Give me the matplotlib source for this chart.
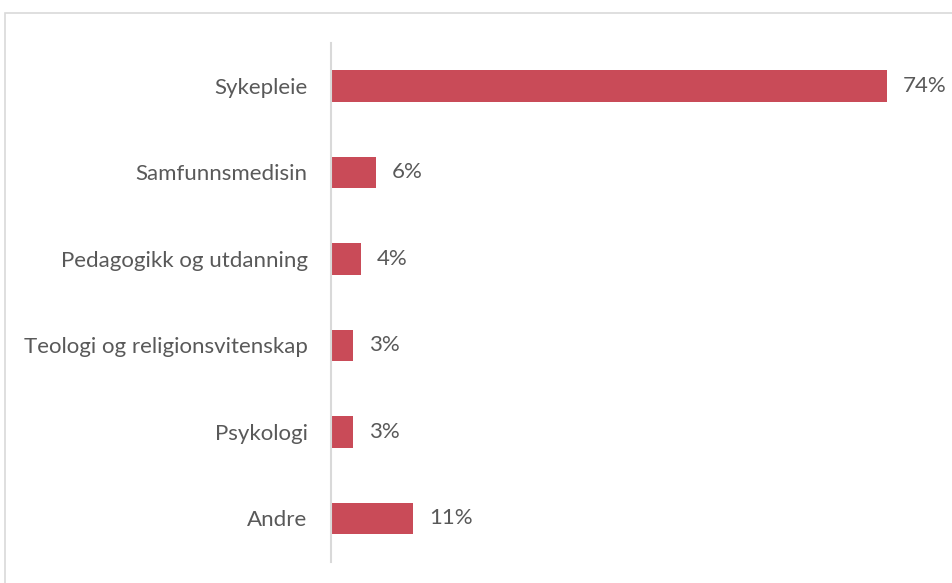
import matplotlib
matplotlib.use("Agg")
from matplotlib import pyplot as plt
from matplotlib.patches import Rectangle

categories = ["Sykepleie", "Samfunnsmedisin", "Pedagogikk og utdanning",
              "Teologi og religionsvitenskap", "Psykologi", "Andre"]
shares = [74, 6, 4, 3, 3, 11]
share_labels = ["74%", "6%", "4%", "3%", "3%", "11%"]

bar_color = "#C94B58"
text_color = "#595959"
grid_gray = "#D9D9D9"

plt.rcParams["font.family"] = ["Lato", "DejaVu Sans"]

W, H = 952, 583
fig = plt.figure(figsize=(W / 100, H / 100), dpi=100)

# chart area frame (only top and left edges fall inside the image)
fig.patches.append(Rectangle((4.5 / W, -0.1), 1.2, 1.1 - 13.5 / H,
                             transform=fig.transFigure, fill=False,
                             edgecolor=grid_gray, linewidth=1.2))

left, right = 330.5, 940
top, bottom = 42.7, 561.7
ax = fig.add_axes([left / W, 1 - bottom / H, (right - left) / W, (bottom - top) / H])

px_per_unit = (886.7 - 330.5) / 74
ax.set_xlim(0, (right - left) / px_per_unit)
ax.set_ylim(len(categories) - 0.5, -0.5)

ypos = list(range(len(categories)))
ax.barh(ypos, shares, height=0.36, color=bar_color)

for y, v, lab in zip(ypos, shares, share_labels):
    ax.annotate(lab, (v, y), xytext=(11.5, 0), textcoords="offset points",
                ha="left", va="center", fontsize=16, color=text_color)

ax.set_yticks(ypos)
ax.set_yticklabels(categories, fontsize=16, color=text_color)
ax.tick_params(axis="y", length=0, pad=16.5)
ax.set_xticks([])

for side in ["top", "right", "bottom"]:
    ax.spines[side].set_visible(False)
ax.spines["left"].set_color(grid_gray)
ax.spines["left"].set_linewidth(1.5)

fig.savefig("out.png", dpi=100, facecolor="white")
